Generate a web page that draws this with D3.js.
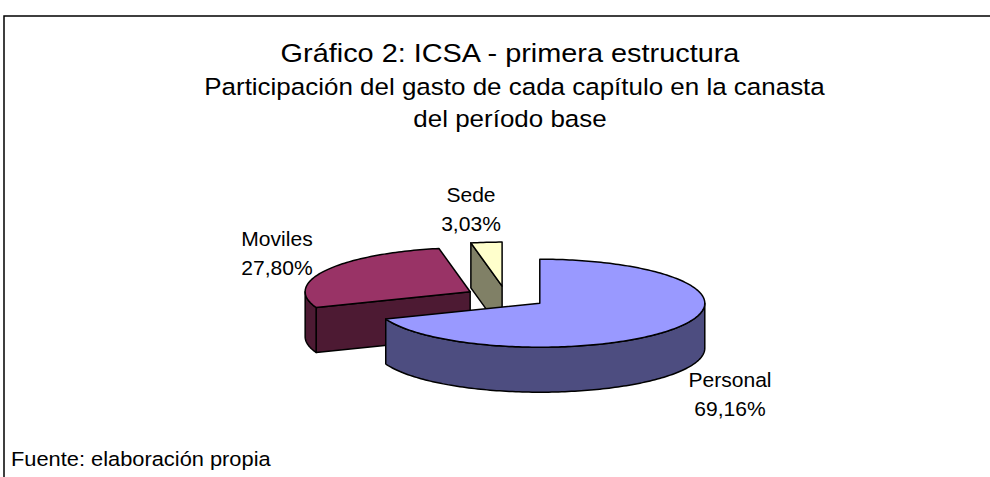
<!DOCTYPE html>
<html>
<head>
<meta charset="utf-8">
<script src="https://cdn.jsdelivr.net/npm/d3@7"></script>
<style>
  body { margin: 0; background: #fff; }
  text { font-family: "Liberation Sans", Arial, sans-serif; fill: #000; }
</style>
</head>
<body>
<div id="chart"></div>
<script>
// data
var categories = ["Personal", "Moviles", "Sede"];
var shares = [69.16, 27.80, 3.03];
var labels = ["69,16%", "27,80%", "3,03%"];
var topColors = ["#9999FF", "#993366", "#FFFFCC"];

var width = 990, height = 477;

// 3d pie geometry
var cx = 506, cy = 297;
var rx = 165, ry = 44;       // ellipse of the top face
var depth = 45;              // thickness of the pie
var explode = 41;            // distance each slice is pulled out

// label placement (centre x, baseline of first line)
var labelPos = [[730, 387], [277, 246], [471, 202]];

var svg = d3.select("#chart")
    .append("svg")
    .attr("width", width)
    .attr("height", height);

svg.append("rect")
    .attr("x", 4).attr("y", 16)
    .attr("width", 1000).attr("height", 500)
    .attr("fill", "#fff")
    .attr("stroke", "#000")
    .attr("stroke-width", 1.5);

// titles
function addText(txt, x, y, size, sx, anchor) {
    svg.append("text")
        .attr("transform", "translate(" + x + "," + y + ") scale(" + sx + ",1)")
        .attr("text-anchor", anchor || "middle")
        .style("font-size", size + "px")
        .text(txt);
}
addText("Gráfico 2: ICSA - primera estructura", 510, 62, 26.5, 1.09);
addText("Participación del gasto de cada capítulo en la canasta", 514.5, 95, 24.5, 1.06);
addText("del período base", 510, 127, 24.5, 1.06);
addText("Fuente: elaboración propia", 11, 466, 19.5, 1.12, "start");

var pie = d3.pie().sort(null).value(function(d) { return d; });
var arcs = pie(shares);

// side faces are the top colour at half brightness
function half(c) {
    var k = d3.rgb(c);
    return d3.rgb(k.r * 0.5, k.g * 0.5, k.b * 0.5).formatHex();
}

// project an angle (clockwise from 12 o'clock) on the ellipse
function pt(o, a, h) {
    return [o[0] + rx * Math.sin(a), o[1] - ry * Math.cos(a) + (h || 0)];
}
function arcPts(o, a0, a1, h) {
    var n = Math.max(2, Math.ceil(Math.abs(a1 - a0) / 0.02));
    var out = [];
    for (var i = 0; i <= n; i++) out.push(pt(o, a0 + (a1 - a0) * i / n, h));
    return out;
}

var line = d3.line();
var slices = arcs.map(function(d, i) {
    var mid = (d.startAngle + d.endAngle) / 2;
    var o = [cx + explode * Math.sin(mid), cy - explode * (ry / rx) * Math.cos(mid)];
    return { d: d, i: i, o: o };
});

// draw back to front
slices.sort(function(a, b) { return a.o[1] - b.o[1]; });

var g = svg.append("g")
    .attr("stroke", "#000")
    .attr("stroke-width", 1.5)
    .attr("stroke-linejoin", "round");

slices.forEach(function(s) {
    var a0 = s.d.startAngle, a1 = s.d.endAngle, o = s.o;
    var side = half(topColors[s.i]);

    // cut faces, only the ones facing the viewer
    [[a0, a0 - Math.PI / 2], [a1, a1 + Math.PI / 2]].forEach(function(f) {
        if (Math.cos(f[1]) < -0.01) {
            var r = pt(o, f[0]);
            g.append("path")
                .attr("d", line([o, r, [r[0], r[1] + depth], [o[0], o[1] + depth]]) + "Z")
                .attr("fill", side);
        }
    });

    // outer wall, front half only
    var w0 = Math.max(a0, Math.PI / 2), w1 = Math.min(a1, 3 * Math.PI / 2);
    if (w1 > w0) {
        var topEdge = arcPts(o, w0, w1, 0);
        var botEdge = arcPts(o, w1, w0, depth);
        g.append("path")
            .attr("d", line(topEdge.concat(botEdge)) + "Z")
            .attr("fill", side);
    }

    // top face
    g.append("path")
        .attr("d", line([o].concat(arcPts(o, a0, a1, 0))) + "Z")
        .attr("fill", topColors[s.i]);
});

// data labels
categories.forEach(function(c, i) {
    addText(c, labelPos[i][0], labelPos[i][1], 19.5, 1.08);
    addText(labels[i], labelPos[i][0], labelPos[i][1] + 29, 19.5, 1.08);
});
</script>
</body>
</html>
